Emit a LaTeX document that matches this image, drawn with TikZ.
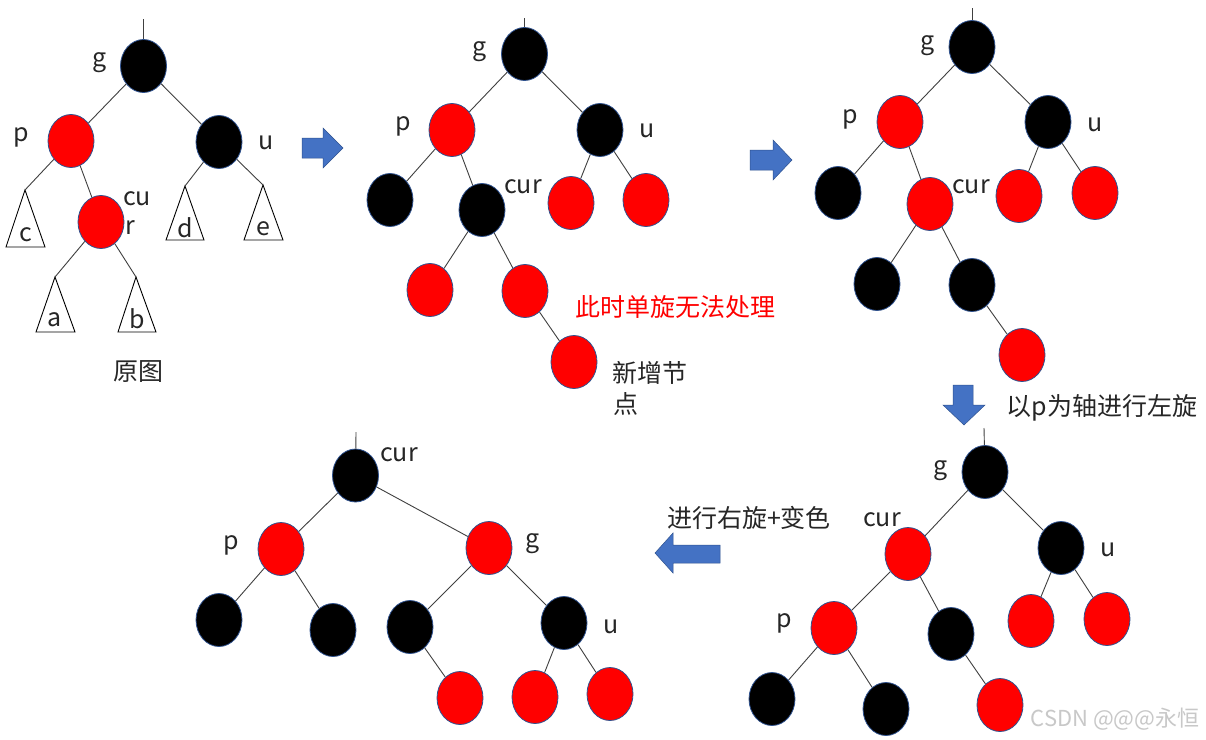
\documentclass[tikz,border=0pt]{standalone}
\usepackage{fontspec}
\setmainfont{Noto Sans CJK SC}
\usetikzlibrary{shapes.geometric}
\definecolor{rbred}{RGB}{255,0,0}
\definecolor{rbline}{RGB}{47,82,143}
\definecolor{edgec}{RGB}{64,64,64}
\definecolor{txt}{RGB}{38,38,38}
\definecolor{arrowblue}{RGB}{68,114,196}
\definecolor{wm}{RGB}{200,200,200}
\tikzset{
  tnode/.style={ellipse, minimum width=46pt, minimum height=53pt, inner sep=0pt, draw=rbline, line width=0.8pt},
  rn/.style={tnode, fill=rbred},
  bn/.style={tnode, fill=black},
  tl/.style={draw=edgec, line width=0.9pt},
  lbl/.style={inner sep=0pt, text=txt, font=\fontsize{25}{28}\selectfont},
  tri/.style={draw=black, line width=0.9pt},
  blockarrow/.style={fill=arrowblue, draw=rbline, line width=0.5pt},
}
\begin{document}
\begin{tikzpicture}[x=1pt,y=-1pt]
\useasboundingbox[fill=white] (0,0) rectangle (1206,739);

% ---------------- Tree A (original) ----------------
\coordinate (Atop) at (143.5,19);
\node[bn] (Ag) at (143.5,66) {};
\node[rn] (Ap) at (71,141) {};
\node[bn] (Au) at (219,142) {};
\node[rn] (Ac) at (101,222) {};
\coordinate (Tc) at (25,190);
\coordinate (Td) at (185,186);
\coordinate (Te) at (263,185);
\coordinate (Ta) at (55,277);
\coordinate (Tb) at (136,277);
\draw[tri] (Tc) -- (6,247) -- (45,247) -- cycle;
\draw[tri] (Td) -- (166,240) -- (204,240) -- cycle;
\draw[tri] (Te) -- (244,240) -- (283,240) -- cycle;
\draw[tri] (Ta) -- (36,332) -- (75,332) -- cycle;
\draw[tri] (Tb) -- (118,332) -- (156,332) -- cycle;
\draw[tl] (Atop) -- (Ag);
\draw[tl] (Ag) -- (Ap);
\draw[tl] (Ag) -- (Au);
\draw[tl] (Ap) -- (Tc);
\draw[tl] (Ap) -- (Ac);
\draw[tl] (Au) -- (Td);
\draw[tl] (Au) -- (Te);
\draw[tl] (Ac) -- (Ta);
\draw[tl] (Ac) -- (Tb);
\node[lbl] (Alg) at (99.5,62.5) {g};
\node[lbl] (Alp) at (21,137) {p};
\node[lbl] (Alu) at (266,143) {u};
\node[lbl] (Alcu) at (137,199) {cu};
\node[lbl] (Alr) at (130,228) {r};
\node[lbl] (Ltc) at (26,235) {c};
\node[lbl] (Ltd) at (185,228) {d};
\node[lbl] (Lte) at (263,229) {e};
\node[lbl] (Lta) at (55,320) {a};
\node[lbl] (Ltb) at (137,319) {b};
\node[lbl] (Acap) at (138,372) {原图};

% arrow 1
\draw[blockarrow] (302,138) -- (323,138) -- (323,128) -- (343,148) -- (323,168) -- (323,158) -- (302,158) -- cycle;

% ---------------- Tree B ----------------
\coordinate (Btop) at (524.5,18);
\node[bn] (Bg) at (524.5,54) {};
\node[rn] (Bp) at (452,130) {};
\node[bn] (Bu) at (600,130) {};
\node[bn] (Bpl) at (390,200) {};
\node[bn] (Bc) at (482,210) {};
\node[rn] (Bul) at (571,203) {};
\node[rn] (Bur) at (646,200) {};
\node[rn] (Bcl) at (430,290) {};
\node[rn] (Bcr) at (525,291) {};
\node[rn] (Bn) at (574,362) {};
\draw[tl] (Btop) -- (Bg);
\draw[tl] (Bg) -- (Bp);
\draw[tl] (Bg) -- (Bu);
\draw[tl] (Bp) -- (Bpl);
\draw[tl] (Bp) -- (Bc);
\draw[tl] (Bu) -- (Bul);
\draw[tl] (Bu) -- (Bur);
\draw[tl] (Bc) -- (Bcl);
\draw[tl] (Bc) -- (Bcr);
\draw[tl] (Bcr) -- (Bn);
\node[lbl] (Blg) at (480,52) {g};
\node[lbl] (Blp) at (403,126) {p};
\node[lbl] (Blu) at (647,131) {u};
\node[lbl] (Blc) at (523,187) {cur};
\node[lbl, text=rbred] (Bnote) at (675,307) {此时单旋无法处理};
\node[lbl, anchor=west] (Bnew1) at (612,373) {新增节};
\node[lbl, anchor=west] (Bnew2) at (613,404) {点};

% arrow 2
\draw[blockarrow] (750,150) -- (773,150) -- (773,140) -- (792,160) -- (773,180) -- (773,170) -- (750,170) -- cycle;

% ---------------- Tree C ----------------
\coordinate (Ctop) at (972,8);
\node[bn] (Cg) at (972,47) {};
\node[rn] (Cp) at (900,122) {};
\node[bn] (Cu) at (1048,122) {};
\node[bn] (Cpl) at (838,193) {};
\node[rn] (Cc) at (930,204) {};
\node[rn] (Cul) at (1019,196) {};
\node[rn] (Cur) at (1095,193) {};
\node[bn] (Ccl) at (877,284) {};
\node[bn] (Ccr) at (972,285) {};
\node[rn] (Cn) at (1022,355) {};
\draw[tl] (Ctop) -- (Cg);
\draw[tl] (Cg) -- (Cp);
\draw[tl] (Cg) -- (Cu);
\draw[tl] (Cp) -- (Cpl);
\draw[tl] (Cp) -- (Cc);
\draw[tl] (Cu) -- (Cul);
\draw[tl] (Cu) -- (Cur);
\draw[tl] (Cc) -- (Ccl);
\draw[tl] (Cc) -- (Ccr);
\draw[tl] (Ccr) -- (Cn);
\node[lbl] (Clg) at (928,46) {g};
\node[lbl] (Clp) at (850,119) {p};
\node[lbl] (Clu) at (1095,125) {u};
\node[lbl] (Clc) at (971,187) {cur};

% arrow 3 (down)
\draw[blockarrow] (953,385) -- (973,385) -- (973,405) -- (985,405) -- (964,425) -- (943,405) -- (953,405) -- cycle;
\node[lbl] (Step1) at (1102,408) {以p为轴进行左旋};

% ---------------- Tree D ----------------
\coordinate (Dtop) at (984,428);
\node[bn] (Dg) at (985,472) {};
\node[rn] (Dc) at (908,554) {};
\node[bn] (Du) at (1061,548) {};
\node[rn] (Dp) at (834,628) {};
\node[bn] (Dcr) at (951,634) {};
\node[rn] (Dul) at (1031,621) {};
\node[rn] (Dur) at (1107,619) {};
\node[bn] (Dpl) at (772,699) {};
\node[bn] (Dpr) at (886,709) {};
\node[rn] (Dn) at (1000,705) {};
\draw[tl] (Dtop) -- (Dg);
\draw[tl] (Dg) -- (Dc);
\draw[tl] (Dg) -- (Du);
\draw[tl] (Dc) -- (Dp);
\draw[tl] (Dc) -- (Dcr);
\draw[tl] (Du) -- (Dul);
\draw[tl] (Du) -- (Dur);
\draw[tl] (Dp) -- (Dpl);
\draw[tl] (Dp) -- (Dpr);
\draw[tl] (Dcr) -- (Dn);
\node[lbl] (Dlg) at (941,471) {g};
\node[lbl] (Dlc) at (882,520) {cur};
\node[lbl] (Dlu) at (1108,550) {u};
\node[lbl] (Dlp) at (784,623) {p};

% arrow 4 (left)
\draw[blockarrow] (720,545) -- (673,545) -- (673,533) -- (655,553) -- (673,573) -- (673,563) -- (720,563) -- cycle;
\node[lbl] (Step2) at (749,518) {进行右旋+变色};

% ---------------- Tree E ----------------
\coordinate (Etop) at (356,432);
\node[bn] (Ec) at (355.5,475.5) {};
\node[rn] (Ep) at (281,549) {};
\node[rn] (Eg) at (489,548) {};
\node[bn] (Epl) at (219,620) {};
\node[bn] (Epr) at (333,630) {};
\node[bn] (Egl) at (410,627) {};
\node[bn] (Eu) at (564,623) {};
\node[rn] (En) at (460,698) {};
\node[rn] (Eul) at (535,697) {};
\node[rn] (Eur) at (610,694) {};
\draw[tl] (Etop) -- (Ec);
\draw[tl] (Ec) -- (Ep);
\draw[tl] (Ec) -- (Eg);
\draw[tl] (Ep) -- (Epl);
\draw[tl] (Ep) -- (Epr);
\draw[tl] (Eg) -- (Egl);
\draw[tl] (Eg) -- (Eu);
\draw[tl] (Egl) -- (En);
\draw[tl] (Eu) -- (Eul);
\draw[tl] (Eu) -- (Eur);
\node[lbl] (Elc) at (399,455) {cur};
\node[lbl] (Elp) at (231,545) {p};
\node[lbl] (Elg) at (533,544) {g};
\node[lbl] (Elu) at (611,627) {u};

% watermark
\node[inner sep=0pt, text=wm, font=\fontsize{22}{24}\selectfont] (WM) at (1115,719) {CSDN @@@永恒};
\end{tikzpicture}
\end{document}
